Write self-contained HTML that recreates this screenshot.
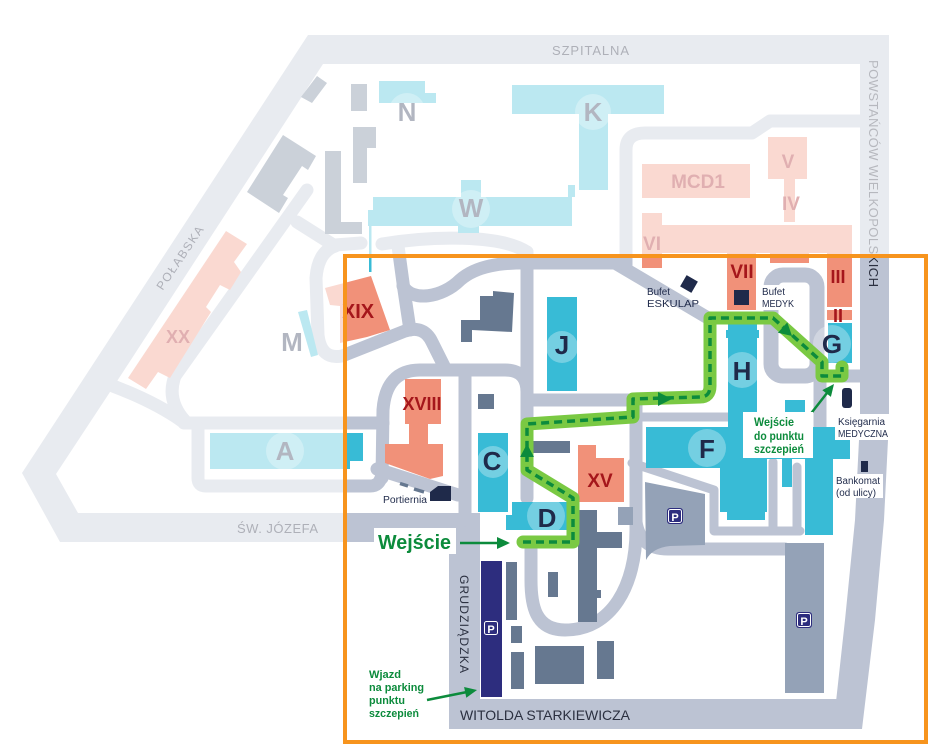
<!DOCTYPE html>
<html><head><meta charset="utf-8"><style>
html,body{margin:0;padding:0;background:#fff;}
svg{display:block;}
text{font-family:"Liberation Sans",Arial,sans-serif;}
</style></head><body>
<svg width="950" height="752" viewBox="0 0 950 752" xmlns="http://www.w3.org/2000/svg">
<rect width="950" height="752" fill="#fff"/>

<!-- outer roads -->
<g fill="#bcc3d3">
<rect x="308" y="35" width="581" height="29"/>
<path d="M860,35 L889,35 L889,420 L884,520 L875,620 L862,729 L833,729 L845,620 L855,520 L860,420 Z"/>
<path d="M308,35 L330,35 L330,64 L323,64 L110,392 L56,474 L78,513 L470,513 L470,542 L60,542 L22,473 Z"/>
<rect x="449" y="699" width="413" height="30"/>
<rect x="449" y="513" width="31" height="216"/>
</g>

<!-- inner roads -->
<g fill="none" stroke="#bcc3d3" stroke-width="13" stroke-linecap="round" stroke-linejoin="round">
<path d="M307,190 L175,376 Q166,400 185,421"/>
<path d="M113,386 Q155,402 182,421"/>
<path d="M184,423 L383,423"/>
<path d="M198,428 L198,478 Q198,486 206,486 L370,486 Q382,486 382,470"/>
<path d="M382,478 L383,410 Q386,370 420,370 L505,370 Q527,370 527,392"/>
<path d="M297,222 L335,246"/>
<path d="M335,246 Q318,252 316,278 L318,335 Q321,360 342,356 L405,331 Q424,325 432,342 L445,368"/>
<path d="M335,245 L361,243"/>
<path d="M382,244 C430,236 500,234 527,252"/>
<path d="M398,246 L404,290 L410,330"/>
<path d="M403,286 C412,302 442,298 460,280 C476,266 500,262 535,263 L615,263 L708,318"/>
<path d="M626,265 L626,150 Q626,133 645,133 L752,133 L770,121 L860,121"/>
<path d="M527,252 L527,498"/>
<path d="M465,375 L465,520"/>
<path d="M527,400 L636,400"/>
<path d="M636,400 L636,530 C636,585 612,630 565,630 C535,630 531,605 531,580 L531,548"/>
<path d="M636,522 Q640,549 668,549 L785,549"/>
<path d="M377,469 L458,495"/>
<path d="M817,376 L860,376"/>
<path d="M820,376 L820,427"/>
</g>
<rect x="771" y="275" width="46" height="101" rx="12" fill="none" stroke="#bcc3d3" stroke-width="15"/>
<g fill="none" stroke="#bcc3d3" stroke-width="9" stroke-linecap="round" stroke-linejoin="round">
<path d="M632,463 L714,490 L714,531 L800,531"/>
<path d="M773,462 L773,531"/>
<path d="M797,467 L797,531"/>
<path d="M640,417 L733,417"/>
</g>

<!-- slate buildings -->
<g fill="#667890">
<rect x="351" y="84" width="16" height="27"/>
<path d="M353,127 H376 V148 H367 V183 H353 Z"/>
<path d="M325,151 H341 V222 H362 V234 H325 Z"/>
<path d="M283,135 L316,156 L308,170 L302,166 L283,195 L288,198 L279,213 L247,192 Z"/>
<path d="M317,76 L327,83 L312,103 L301,97 Z"/>
<path d="M480,296 H493 V291 L514,293 L512,332 L472,330 V342 H461 V320 H480 Z"/>
<rect x="478" y="394" width="16" height="15"/>
<rect x="533" y="441" width="37" height="12"/>
<path d="M578,510 H597 V532 H622 V548 H597 V590 H601 V598 H597 V622 H578 Z"/>
<rect x="548" y="572" width="10" height="25"/>
<rect x="506" y="562" width="11" height="58"/>
<rect x="511" y="626" width="11" height="17"/>
<rect x="511" y="652" width="13" height="37"/>
<rect x="535" y="646" width="49" height="38"/>
<rect x="597" y="641" width="17" height="38"/>
</g>
<g fill="#94a2b7">
<rect x="618" y="507" width="15" height="18"/>
<path d="M645,482 L705,494 L705,545 L670,546 Q652,548 646,560 Z"/>
<rect x="785" y="543" width="39" height="150"/>
</g>
<rect x="481" y="561" width="21" height="136" fill="#2d2d7e"/>

<!-- cyan buildings -->
<g fill="#38bbd6">
<path d="M210,433 H363 V461 H350 V469 H210 Z"/>
<rect x="373" y="197" width="199" height="29"/>
<rect x="461" y="180" width="20" height="17"/>
<rect x="458" y="226" width="21" height="7"/>
<rect x="568" y="185" width="7" height="12"/>
<rect x="368" y="210" width="5" height="16"/>
<rect x="369" y="226" width="2.5" height="46"/>
<rect x="512" y="85" width="152" height="29"/>
<rect x="579" y="114" width="29" height="76"/>
<rect x="379" y="81" width="46" height="22"/>
<rect x="425" y="93" width="11" height="10"/>
<path d="M298,312 L307,310 L318,355 L311,357 Z"/>
<rect x="547" y="297" width="30" height="94"/>
<rect x="478" y="433" width="30" height="79"/>
<path d="M512,502 H567 V530 H506 V515 H512 Z"/>
<rect x="728" y="322" width="29" height="105"/>
<rect x="726" y="330" width="33" height="8"/>
<rect x="828" y="323" width="24" height="40"/>
<rect x="646" y="427" width="204" height="32"/>
<rect x="646" y="459" width="74" height="9"/>
<rect x="720" y="459" width="47" height="53"/>
<rect x="727" y="512" width="38" height="8"/>
<rect x="782" y="459" width="10" height="28"/>
<rect x="805" y="459" width="28" height="76"/>
<rect x="785" y="400" width="20" height="12"/>
</g>

<!-- salmon buildings -->
<g fill="#f19179">
<path d="M325,288 L371,276 L390,330 L367,337 L340,343 L340,306 L330,305 Z"/>
<rect x="405" y="379" width="36" height="45"/>
<path d="M385,444 H409 V424 H428 V444 H443 V476 L430,479 L385,463 Z"/>
<path d="M578,445 H596 V458 H624 V502 H578 Z"/>
<rect x="642" y="225" width="210" height="28"/>
<rect x="642" y="213" width="20" height="55"/>
<rect x="727" y="225" width="29" height="85"/>
<rect x="770" y="225" width="39" height="38"/>
<rect x="827" y="225" width="25" height="82"/>
<rect x="827" y="310" width="25" height="10"/>
<rect x="642" y="164" width="108" height="34"/>
<rect x="768" y="137" width="39" height="42"/>
<rect x="784" y="179" width="11" height="43"/>
<path d="M226,231 L247,244 L234,262 L241,272 L230,290 L220,285 L206,307 L211,312 L170,378 L158,372 L146,389 L128,378 Z"/>
</g>

<!-- label circles -->
<g fill="#fff" fill-opacity="0.3">
<circle cx="407" cy="111" r="18"/>
<circle cx="593" cy="112" r="18"/>
<circle cx="471" cy="209" r="19"/>
<circle cx="285" cy="451" r="19"/>
<circle cx="562" cy="347" r="16"/>
<circle cx="493" cy="462" r="16"/>
<circle cx="546" cy="516" r="19"/>
<circle cx="742" cy="370" r="18"/>
<circle cx="832" cy="344" r="19"/>
<circle cx="707" cy="448" r="19"/>
</g>

<!-- building letters -->
<g fill="#1f2a4a" font-weight="bold" font-size="26" text-anchor="middle">
<text x="407" y="121">N</text>
<text x="593" y="121">K</text>
<text x="471" y="217">W</text>
<text x="285" y="460">A</text>
<text x="292" y="351">M</text>
<text x="562" y="354">J</text>
<text x="492" y="470">C</text>
<text x="547" y="527">D</text>
<text x="742" y="380">H</text>
<text x="832" y="353">G</text>
<text x="707" y="458">F</text>
</g>
<g fill="#a5161b" font-weight="bold" text-anchor="middle">
<text x="358" y="318" font-size="20">XIX</text>
<text x="422" y="410" font-size="18">XVIII</text>
<text x="600" y="487" font-size="19">XV</text>
<text x="742" y="278" font-size="19">VII</text>
<text x="838" y="283" font-size="18">III</text>
<text x="838" y="322" font-size="18">II</text>
<text x="178" y="343" font-size="18">XX</text>
<text x="698" y="188" font-size="19">MCD1</text>
<text x="788" y="168" font-size="19">V</text>
<text x="791" y="210" font-size="19">IV</text>
<text x="652" y="250" font-size="19">VI</text>
</g>

<text transform="translate(869,60) rotate(90)" font-size="13" fill="#2b3040" textLength="227" lengthAdjust="spacing">POWSTAŃCÓW WIELKOPOLSKICH</text>

<!-- fade overlay outside the box -->
<path d="M0,0H950V752H0Z M345,256V742H926V256Z" fill="#fff" fill-opacity="0.66" fill-rule="evenodd"/>

<!-- orange box -->
<rect x="345" y="256" width="581" height="486" fill="none" stroke="#f7941d" stroke-width="4"/>

<!-- faded street names -->
<g fill="#aeb0b8" font-size="13">
<text x="552" y="55" textLength="77" lengthAdjust="spacing">SZPITALNA</text>
<text x="237" y="533" textLength="81" lengthAdjust="spacing">ŚW. JÓZEFA</text>
<text transform="translate(180,258) rotate(-56)" x="0" y="4" text-anchor="middle" font-size="12" textLength="74" lengthAdjust="spacing">POŁABSKA</text>
</g>

<text transform="translate(460,575) rotate(90)" font-size="12" fill="#2b3040" textLength="98" lengthAdjust="spacing">GRUDZIĄDZKA</text>
<text x="460" y="720" font-size="14" fill="#2b3040" textLength="170" lengthAdjust="spacing">WITOLDA STARKIEWICZA</text>

<!-- portiernia dashes -->
<g stroke="#667890" stroke-width="3.5">
<line x1="400" y1="483.5" x2="408" y2="486"/>
<line x1="414" y1="489" x2="424" y2="492"/>
</g>

<!-- navy icons -->
<g fill="#1f2a4a">
<rect x="682.5" y="277.5" width="13" height="13" transform="rotate(30 689 284)"/>
<rect x="734" y="290" width="15" height="15"/>
<path d="M430,492 L438,486 L451,486 L451,501 L430,501 Z"/>
<rect x="842" y="388" width="10" height="20" rx="3"/>
<rect x="861" y="461" width="7" height="11"/>
</g>

<!-- P icons -->
<g>
<rect x="667" y="508" width="16" height="16" rx="3" fill="#2d2d7e"/>
<rect x="668.5" y="509.5" width="13" height="13" rx="2" fill="none" stroke="#fff" stroke-width="1"/>
<text x="675" y="521" font-size="11" font-weight="bold" fill="#fff" text-anchor="middle">P</text>
<rect x="796" y="612" width="16" height="16" rx="3" fill="#2d2d7e"/>
<rect x="797.5" y="613.5" width="13" height="13" rx="2" fill="none" stroke="#fff" stroke-width="1"/>
<text x="804" y="625" font-size="11" font-weight="bold" fill="#fff" text-anchor="middle">P</text>
<rect x="483" y="620" width="16" height="16" rx="3" fill="#2d2d7e"/>
<rect x="484.5" y="621.5" width="13" height="13" rx="2" fill="none" stroke="#fff" stroke-width="1"/>
<text x="491" y="633" font-size="11" font-weight="bold" fill="#fff" text-anchor="middle">P</text>
</g>

<!-- green route -->
<path d="M523,542 L573,542 L573,498 L527,470 L527,424 L633,417 L633,399 L700,397 Q710,397 710,386 L710,318 L773,318 L822,362 L822,376 L842,376 L842,367" fill="none" stroke="#7ac943" stroke-width="13" stroke-linejoin="round" stroke-linecap="round"/>
<path d="M523,542 L573,542 L573,498 L527,470 L527,424 L633,417 L633,399 L700,397 Q710,397 710,386 L710,318 L773,318 L822,362 L822,376 L842,376 L842,367" fill="none" stroke="#0c8b3c" stroke-width="3.5" stroke-dasharray="8 5" stroke-linejoin="round"/>
<g fill="#0c8b3c">
<polygon points="527,444 520,457 534,457"/>
<polygon points="672,399 658,392 658,406"/>
<polygon points="792,336 777.9,332.8 787.3,322.4"/>
</g>

<!-- arrows -->
<g stroke="#0c8b3c" stroke-width="2.5" fill="none">
<line x1="460" y1="543" x2="500" y2="543"/>
<line x1="427" y1="700" x2="467" y2="692"/>
<line x1="802" y1="425" x2="827" y2="393"/>
</g>
<g fill="#0c8b3c">
<polygon points="510,543 497,537 497,549"/>
<polygon points="477,690 466.3,697.8 464.1,687"/>
<polygon points="834,384 830.9,396.9 822.3,390.1"/>
</g>

<!-- white label backgrounds -->
<g fill="#fff">
<rect x="374" y="528" width="82" height="26"/>
<rect x="743" y="412" width="70" height="46"/>
<rect x="760" y="285" width="38" height="25"/>
<rect x="835" y="414" width="56" height="26"/>
<rect x="833" y="474" width="50" height="24"/>
</g>

<!-- green labels -->
<g fill="#0c8b3c" font-weight="bold">
<text x="378" y="549" font-size="20" textLength="73" lengthAdjust="spacingAndGlyphs">Wejście</text>
<text x="754" y="426" font-size="11.5" textLength="40" lengthAdjust="spacingAndGlyphs">Wejście</text>
<text x="754" y="440" font-size="11.5" textLength="50" lengthAdjust="spacingAndGlyphs">do punktu</text>
<text x="754" y="453" font-size="11.5" textLength="50" lengthAdjust="spacingAndGlyphs">szczepień</text>
<text x="369" y="678" font-size="11" textLength="32" lengthAdjust="spacingAndGlyphs">Wjazd</text>
<text x="369" y="691" font-size="11" textLength="55" lengthAdjust="spacingAndGlyphs">na parking</text>
<text x="369" y="704" font-size="11" textLength="36" lengthAdjust="spacingAndGlyphs">punktu</text>
<text x="369" y="717" font-size="11" textLength="50" lengthAdjust="spacingAndGlyphs">szczepień</text>
</g>

<!-- navy labels -->
<g fill="#1f2a4a" font-size="10">
<text x="838" y="425" textLength="47" lengthAdjust="spacingAndGlyphs">Księgarnia</text>
<text x="838" y="437" textLength="50" lengthAdjust="spacingAndGlyphs">MEDYCZNA</text>
<text x="836" y="484" textLength="44" lengthAdjust="spacingAndGlyphs">Bankomat</text>
<text x="836" y="496" textLength="40" lengthAdjust="spacingAndGlyphs">(od ulicy)</text>
<text x="647" y="295" textLength="23" lengthAdjust="spacingAndGlyphs">Bufet</text>
<text x="647" y="307" textLength="52" lengthAdjust="spacingAndGlyphs">ESKULAP</text>
<text x="762" y="295" textLength="23" lengthAdjust="spacingAndGlyphs">Bufet</text>
<text x="762" y="307" textLength="32" lengthAdjust="spacingAndGlyphs">MEDYK</text>
<text x="383" y="503" textLength="44" lengthAdjust="spacingAndGlyphs">Portiernia</text>
</g>
</svg>
</body></html>
